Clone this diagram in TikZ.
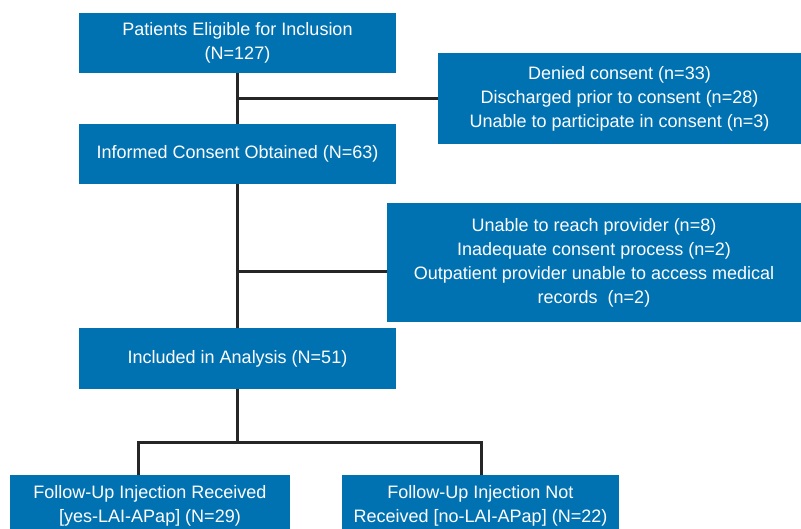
\documentclass[tikz,border=0pt]{standalone}
\usepackage{fontspec}
\setmainfont{Liberation Sans}
\definecolor{boxblue}{RGB}{0,114,178}
\tikzset{
  flowbox/.style={fill=boxblue, text=white, inner sep=0pt, align=center,
    font=\fontsize{18}{24}\selectfont},
  link/.style={line width=3pt, draw=black!85}
}

\begin{document}
\begin{tikzpicture}[x=1pt, y=-1pt]
    \useasboundingbox (0, 0) rectangle (801, 529);

    \node[flowbox, minimum width=317, minimum height=60] (elig) at (237.5, 43)
      {Patients Eligible for Inclusion\\(N=127)};
    \node[flowbox, minimum width=363, minimum height=91] (excl1) at (619.5, 98.5)
      {Denied consent (n=33)\\Discharged prior to consent (n=28)\\Unable to participate in consent (n=3)};
    \node[flowbox, minimum width=317, minimum height=60] (consent) at (237.5, 154)
      {Informed Consent Obtained (N=63)};
    \node[flowbox, minimum width=414, minimum height=119] (excl2) at (594, 262.5)
      {Unable to reach provider (n=8)\\Inadequate consent process (n=2)\\Outpatient provider unable to access medical\\records\ \ (n=2)};
    \node[flowbox, minimum width=317, minimum height=61] (analysis) at (237.5, 358.5)
      {Included in Analysis (N=51)};
    \node[flowbox, minimum width=280, minimum height=62] (yes) at (150, 506)
      {Follow-Up Injection Received\\{[yes-LAI-APap]} (N=29)};
    \node[flowbox, minimum width=277, minimum height=62] (no) at (480.5, 506)
      {Follow-Up Injection Not\\Received {[no-LAI-APap]} (N=22)};

    % main stem
    \draw[link] (elig.south) -- (consent.north);
    \draw[link] (elig.south |- excl1.west) -- (excl1.west);

    \coordinate (j2) at (237.5, 272);
    \draw[link] (consent.south) -- (analysis.north);
    \draw[link] (j2) -- (j2 -| excl2.west);

    % split
    \coordinate (j3) at (237.5, 442);
    \draw[link] (analysis.south) -- (j3);
    \draw[link] (yes.north -| 138, 0) |- (j3) -| (no.north -| 481, 0);
  \end{tikzpicture}
\end{document}
